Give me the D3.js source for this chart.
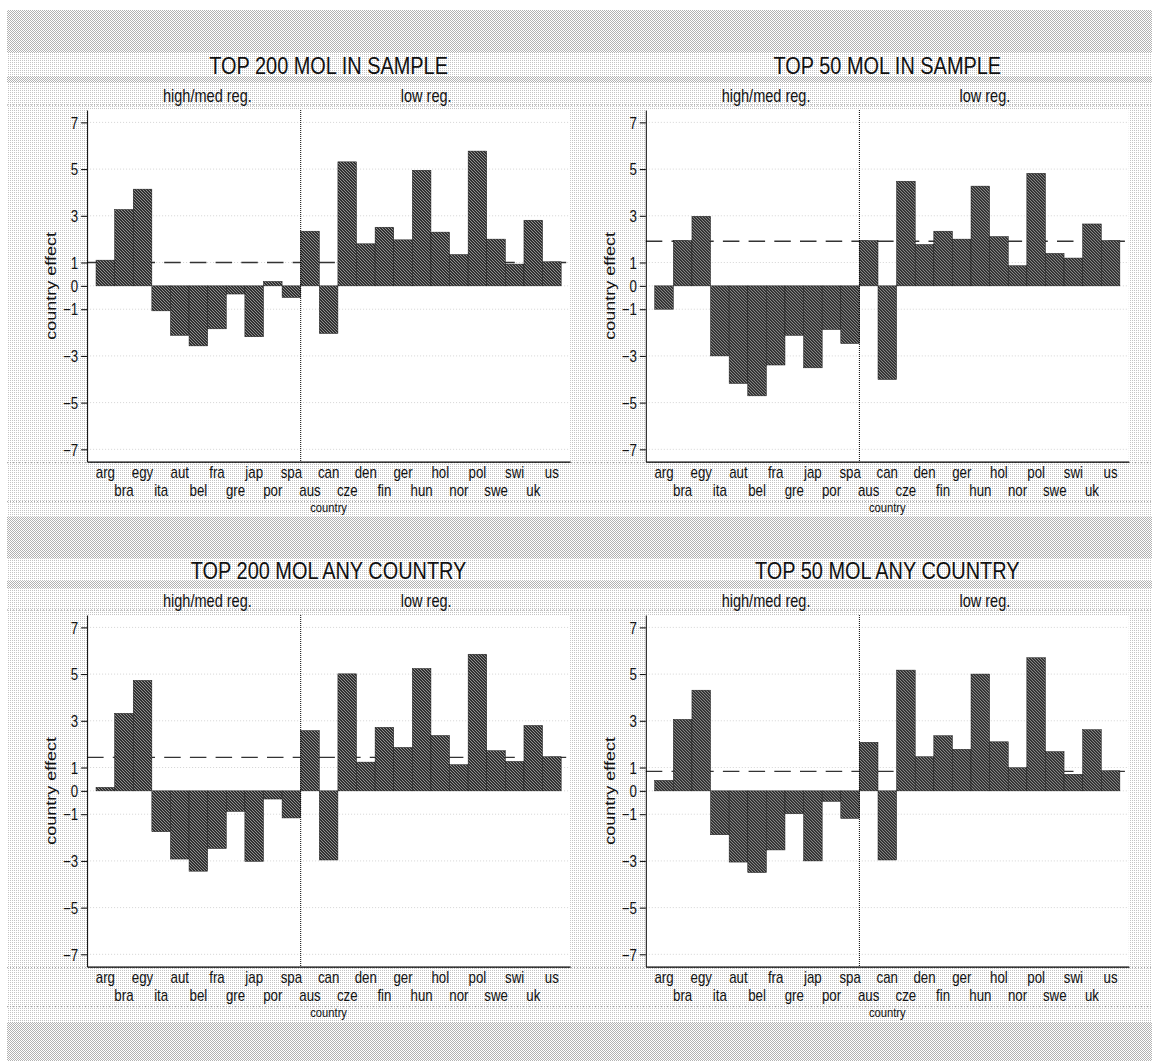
<!DOCTYPE html>
<html>
<head>
<meta charset="utf-8">
<script src="https://cdn.jsdelivr.net/npm/d3@7"></script>
<style>
body { margin: 0; background: #fff; }
svg { display: block; }
text { font-family: "Liberation Sans", Arial, Helvetica, sans-serif; fill: #111; }
</style>
</head>
<body>
<svg id="chart" width="1152" height="1061"></svg>
<script>
// data
var countries = ["arg","bra","egy","ita","aut","bel","fra","gre","jap","por","spa",
                 "aus","can","cze","den","fin","ger","hun","hol","nor","pol","swe","swi","uk","us"];
var titles = ["TOP 200 MOL IN SAMPLE", "TOP 50 MOL IN SAMPLE", "TOP 200 MOL ANY COUNTRY", "TOP 50 MOL ANY COUNTRY"];
var top200Sample = [1.10, 3.27, 4.14, -1.07, -2.12, -2.57, -1.84, -0.35, -2.18, 0.19, -0.50,
                    2.34, -2.04, 5.31, 1.80, 2.51, 1.97, 4.95, 2.30, 1.34, 5.77, 2.00, 0.93, 2.81, 1.03];
var top50Sample = [-1.00, 1.94, 2.98, -3.00, -4.18, -4.71, -3.39, -2.12, -3.51, -1.87, -2.47,
                   1.94, -4.01, 4.48, 1.77, 2.34, 2.00, 4.27, 2.11, 0.86, 4.82, 1.39, 1.19, 2.65, 1.94];
var top200Any = [0.15, 3.32, 4.73, -1.75, -2.92, -3.44, -2.47, -0.88, -3.02, -0.35, -1.16,
                 2.58, -2.96, 5.01, 1.23, 2.72, 1.86, 5.24, 2.37, 1.12, 5.85, 1.72, 1.26, 2.80, 1.46];
var top50Any = [0.45, 3.06, 4.31, -1.88, -3.05, -3.50, -2.53, -0.98, -3.00, -0.45, -1.18,
                2.08, -2.96, 5.17, 1.46, 2.36, 1.78, 5.00, 2.10, 0.99, 5.70, 1.68, 0.71, 2.62, 0.86];
var meanLines = [1.00, 1.91, 1.43, 0.83];
var yTicks = [7, 5, 3, 1, 0, -1, -3, -5, -7];
var groupLabels = ["high/med reg.", "low reg."];
var splitAt = "aus";

var series = [top200Sample, top50Sample, top200Any, top50Any];

var k = 0.83; // narrow text
var W = 483, H = 351.7;
var lefts = [87.1, 645.8], tops = [110, 615];

var svg = d3.select("#chart");
var defs = svg.append("defs");

// stipple backgrounds
var pd = defs.append("pattern").attr("id", "dark").attr("patternUnits", "userSpaceOnUse")
    .attr("width", 2).attr("height", 2);
pd.append("rect").attr("width", 2).attr("height", 2).attr("fill", "#fff");
pd.append("rect").attr("x", 0).attr("y", 0).attr("width", 1).attr("height", 1).attr("fill", "#b2b2b2");
pd.append("rect").attr("x", 1).attr("y", 1).attr("width", 1).attr("height", 1).attr("fill", "#b2b2b2");

var pl = defs.append("pattern").attr("id", "light").attr("patternUnits", "userSpaceOnUse")
    .attr("width", 2).attr("height", 2);
pl.append("rect").attr("width", 2).attr("height", 2).attr("fill", "#fff");
pl.append("rect").attr("x", 0).attr("y", 0).attr("width", 1).attr("height", 1).attr("fill", "#c4c4c4");

// hatch for bars
var ph = defs.append("pattern").attr("id", "hatch").attr("patternUnits", "userSpaceOnUse")
    .attr("width", 3).attr("height", 3);
ph.append("rect").attr("width", 3).attr("height", 3).attr("fill", "#2c2c2c");
ph.append("path").attr("d", "M0,0L3,3M-1,2L1,4M2,-1L4,1")
    .attr("stroke", "#a8a8a8").attr("stroke-width", 0.9);

svg.append("rect").attr("x", 7).attr("y", 10).attr("width", 1145).attr("height", 1051).attr("fill", "url(#light)");
[[10, 53], [76, 83], [517, 558], [581, 588], [1022, 1061]].forEach(function (b) {
    svg.append("rect").attr("x", 7).attr("y", b[0]).attr("width", 1145).attr("height", b[1] - b[0])
        .attr("fill", "url(#dark)");
});
[105, 462.7, 501.7, 610, 967.7, 1006.7].forEach(function (yy) {
    svg.append("line").attr("x1", 7).attr("x2", 1152).attr("y1", yy).attr("y2", yy)
        .attr("stroke", "#9a9a9a").attr("stroke-dasharray", "1,2");
});

function drawPanel(p) {
    var vals = series[p];
    var x0 = lefts[p % 2], y0 = tops[Math.floor(p / 2)];
    var g = svg.append("g").attr("transform", "translate(" + x0 + "," + y0 + ")");

    var x = d3.scaleBand().domain(countries).range([0, W]).paddingInner(0).paddingOuter(0.48);
    var y = d3.scaleLinear().domain([-7.53, 7.53]).range([H, 0]);

    g.append("rect").attr("width", W).attr("height", H).attr("fill", "#fff");

    // grid
    g.selectAll(".grid").data(yTicks).enter().append("line")
        .attr("x1", 0).attr("x2", W)
        .attr("y1", function (d) { return y(d); }).attr("y2", function (d) { return y(d); })
        .attr("stroke", "#d4d4d4").attr("stroke-dasharray", "1,2");

    // mean line
    g.append("line").attr("x1", 0).attr("x2", W)
        .attr("y1", y(meanLines[p])).attr("y2", y(meanLines[p]))
        .attr("stroke", "#333").attr("stroke-width", 1.3).attr("stroke-dasharray", "16.5,9.2");

    g.selectAll(".bar").data(vals).enter().append("rect")
        .attr("x", function (d, i) { return x(countries[i]); })
        .attr("width", x.bandwidth())
        .attr("y", function (d) { return y(Math.max(0, d)); })
        .attr("height", function (d) { return Math.abs(y(d) - y(0)); })
        .attr("fill", "url(#hatch)").attr("stroke", "#1a1a1a").attr("stroke-width", 0.5);

    // divider between groups
    var xs = x(splitAt);
    g.append("line").attr("x1", xs).attr("x2", xs).attr("y1", 0).attr("y2", H)
        .attr("stroke", "#000").attr("stroke-width", 1).attr("stroke-dasharray", "1,1");

    // y axis
    var ya = g.append("g").call(d3.axisLeft(y).tickValues(yTicks).tickSize(6).tickSizeOuter(0));
    ya.select(".domain").attr("stroke", "#000");
    ya.selectAll(".tick line").attr("stroke", "#000");
    ya.selectAll(".tick text").attr("x", -9 / k).attr("dy", "0.36em")
        .attr("transform", "scale(" + k + ",1)")
        .style("font-size", "16px").style("font-family", null);

    // x axis
    var xa = g.append("g").attr("transform", "translate(0," + H + ")")
        .call(d3.axisBottom(x).tickSize(0).tickSizeOuter(0));
    xa.select(".domain").attr("stroke", "#000").attr("stroke-width", 1.2);
    xa.selectAll(".tick text")
        .attr("y", function (d, i) { return i % 2 ? 34.3 : 16.3; }).attr("dy", 0)
        .attr("transform", "scale(" + k + ",1)")
        .style("font-size", "16px").style("font-family", null);

    // titles
    function txt(tx, ty, s, size) {
        return g.append("text").attr("transform", "translate(" + tx + "," + ty + ") scale(" + k + ",1)")
            .attr("text-anchor", "middle").style("font-size", size + "px").text(s);
    }
    txt(W / 2, -36, titles[p], 24);
    txt(W * 0.249, -8.3, groupLabels[0], 17.5);
    txt(W * 0.702, -8.3, groupLabels[1], 17.5);
    txt(W / 2, H + 50.5, "country", 13.5);

    g.append("text")
        .attr("transform", "translate(-31," + (H / 2) + ") scale(" + k + ",1) rotate(-90)")
        .attr("text-anchor", "middle").style("font-size", "18px").text("country effect");
}

for (var p = 0; p < 4; p++) drawPanel(p);
</script>
</body>
</html>
